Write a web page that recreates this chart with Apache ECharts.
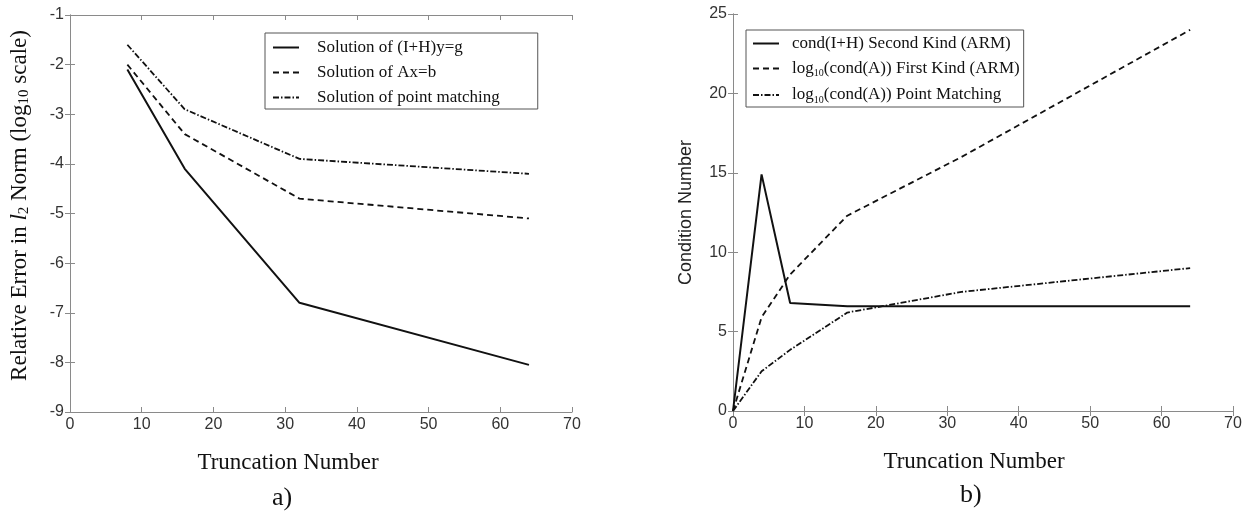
<!DOCTYPE html>
<html>
<head>
<meta charset="utf-8">
<script src="https://cdn.jsdelivr.net/npm/echarts@6/dist/echarts.min.js"></script>
<style>
  html, body { margin: 0; padding: 0; background: #fff; }
  #chart { width: 1250px; height: 512px; }
</style>
</head>
<body>
<div id="chart"></div>
<script>
// panel a) relative error vs truncation number
var errX = [8, 16, 32, 64];
var errSecondKind = [-2.1, -4.1, -6.8, -8.05];
var errFirstKind = [-2.0, -3.4, -4.7, -5.1];
var errPointMatch = [-1.6, -2.9, -3.9, -4.2];

// panel b) condition number vs truncation number
var condX = [0, 4, 8, 16, 32, 64];
var condSecondKind = [0, 14.9, 6.8, 6.6, 6.6, 6.6];
var condFirstKind = [0, 5.9, 8.6, 12.3, 16.0, 24.0];
var condPointMatch = [0, 2.5, 3.85, 6.2, 7.5, 9.0];

var legendA = ['Solution of (I+H)y=g', 'Solution of Ax=b', 'Solution of point matching'];
var legendB = ['cond(I+H) Second Kind (ARM)', 'log10(cond(A)) First Kind (ARM)', 'log10(cond(A)) Point Matching'];

function pairs(xs, ys) {
    return xs.map(function (x, i) { return [x, ys[i]]; });
}

var myChart = echarts.init(document.getElementById('chart'));

var serif = 'Liberation Serif';
var sans = 'Liberation Sans';
var frame = '#8a8a8a';
var solid = { color: '#111', width: 2, type: 'solid' };
var dashed = { color: '#111', width: 1.8, type: [6, 4] };
var dashDot = { color: '#111', width: 1.8, type: [6, 2, 1.5, 2] };
var noSymbol = { color: 'rgba(0,0,0,0)', borderWidth: 0, opacity: 0 };

function xAxisMain(grid, name, shift) {
    return {
        type: 'value', gridIndex: grid, min: 0, max: 70, interval: 10,
        name: name, nameLocation: 'middle', nameGap: 39,
        nameTextStyle: { fontFamily: serif, fontSize: 23, color: '#111', padding: [0, shift, 0, 0] },
        axisLine: { lineStyle: { color: frame } },
        axisTick: { inside: true, length: 5, lineStyle: { color: frame } },
        axisLabel: { fontFamily: sans, fontSize: 16, color: '#333', margin: 5 },
        splitLine: { show: false }
    };
}
function xAxisTop(grid) {
    return {
        type: 'value', gridIndex: grid, position: 'top', min: 0, max: 70, interval: 10,
        axisLine: { lineStyle: { color: frame } },
        axisTick: { inside: true, length: 5, lineStyle: { color: frame } },
        axisLabel: { show: false }, splitLine: { show: false }
    };
}
function yAxisRight(grid, min, max, interval) {
    return {
        type: 'value', gridIndex: grid, position: 'right', min: min, max: max, interval: interval,
        axisLine: { show: true, lineStyle: { color: frame } },
        axisTick: { show: true, inside: true, length: 5, lineStyle: { color: frame } },
        axisLabel: { show: false }, splitLine: { show: false }
    };
}

var option = {
    backgroundColor: '#fff',
    animation: false,
    grid: [
        { left: 70, top: 15, width: 502, height: 397 },
        { left: 733, top: 14, width: 500, height: 397 }
    ],
    legend: [
        {
            data: legendA, orient: 'vertical', left: 265, top: 33,
            itemWidth: 26, itemHeight: 14, itemGap: 8,
            padding: [6, 38, 3, 7],
            borderColor: '#555', borderWidth: 1,
            itemStyle: noSymbol,
            textStyle: { fontFamily: serif, fontSize: 17, color: '#111', padding: [0, 0, 0, 13] }
        },
        {
            data: legendB, orient: 'vertical', left: 746, top: 30,
            itemWidth: 26, itemHeight: 14, itemGap: 8,
            padding: [5, 4, 2, 6],
            borderColor: '#555', borderWidth: 1,
            itemStyle: noSymbol,
            formatter: function (name) {
                return name.replace('log10', 'log{sub|10}');
            },
            textStyle: {
                fontFamily: serif, fontSize: 17, color: '#111', padding: [0, 0, 0, 8],
                rich: { sub: { fontFamily: serif, fontSize: 10, color: '#111', padding: [10, 0, 0, 0] } }
            }
        }
    ],
    xAxis: [
        xAxisMain(0, 'Truncation Number', 66), xAxisTop(0),
        xAxisMain(1, 'Truncation Number', 18), xAxisTop(1)
    ],
    yAxis: [
        {
            type: 'value', gridIndex: 0, min: -9, max: -1, interval: 1,
            name: 'Relative Error in {it|l}{sub|2} Norm (log{sub|10} scale)',
            nameLocation: 'middle', nameGap: 38,
            nameTextStyle: {
                fontFamily: serif, fontSize: 23, color: '#111', padding: [0, 0, 0, 16],
                rich: {
                    it: { fontFamily: serif, fontSize: 23, fontStyle: 'italic', color: '#111' },
                    sub: { fontFamily: serif, fontSize: 15, color: '#111', padding: [10, 0, 0, 0] }
                }
            },
            axisLine: { show: true, lineStyle: { color: frame } },
            axisTick: { show: true, inside: true, length: 5, lineStyle: { color: frame } },
            axisLabel: { fontFamily: sans, fontSize: 16, color: '#333', margin: 6 },
            splitLine: { show: false }
        },
        yAxisRight(0, -9, -1, 1),
        {
            type: 'value', gridIndex: 1, min: 0, max: 25, interval: 5,
            name: 'Condition Number', nameLocation: 'middle', nameGap: 38,
            nameTextStyle: { fontFamily: sans, fontSize: 18, color: '#222' },
            axisLine: { show: true, lineStyle: { color: frame } },
            axisTick: { show: true, inside: true, length: 5, lineStyle: { color: frame } },
            axisLabel: { fontFamily: sans, fontSize: 16, color: '#333', margin: 6 },
            splitLine: { show: false }
        },
        yAxisRight(1, 0, 25, 5)
    ],
    title: [
        { text: 'a)', left: 272, top: 485, textStyle: { fontFamily: serif, fontSize: 26, fontWeight: 'normal', color: '#111' }, padding: 0 },
        { text: 'b)', left: 960, top: 482, textStyle: { fontFamily: serif, fontSize: 26, fontWeight: 'normal', color: '#111' }, padding: 0 }
    ],
    series: [
        { name: legendA[0], type: 'line', xAxisIndex: 0, yAxisIndex: 0, symbol: 'none', data: pairs(errX, errSecondKind), lineStyle: solid, itemStyle: { color: '#111' } },
        { name: legendA[1], type: 'line', xAxisIndex: 0, yAxisIndex: 0, symbol: 'none', data: pairs(errX, errFirstKind), lineStyle: dashed, itemStyle: { color: '#111' } },
        { name: legendA[2], type: 'line', xAxisIndex: 0, yAxisIndex: 0, symbol: 'none', data: pairs(errX, errPointMatch), lineStyle: dashDot, itemStyle: { color: '#111' } },
        { name: legendB[0], type: 'line', xAxisIndex: 2, yAxisIndex: 2, symbol: 'none', data: pairs(condX, condSecondKind), lineStyle: solid, itemStyle: { color: '#111' } },
        { name: legendB[1], type: 'line', xAxisIndex: 2, yAxisIndex: 2, symbol: 'none', data: pairs(condX, condFirstKind), lineStyle: dashed, itemStyle: { color: '#111' } },
        { name: legendB[2], type: 'line', xAxisIndex: 2, yAxisIndex: 2, symbol: 'none', data: pairs(condX, condPointMatch), lineStyle: dashDot, itemStyle: { color: '#111' } }
    ]
};

myChart.setOption(option);
</script>
</body>
</html>
